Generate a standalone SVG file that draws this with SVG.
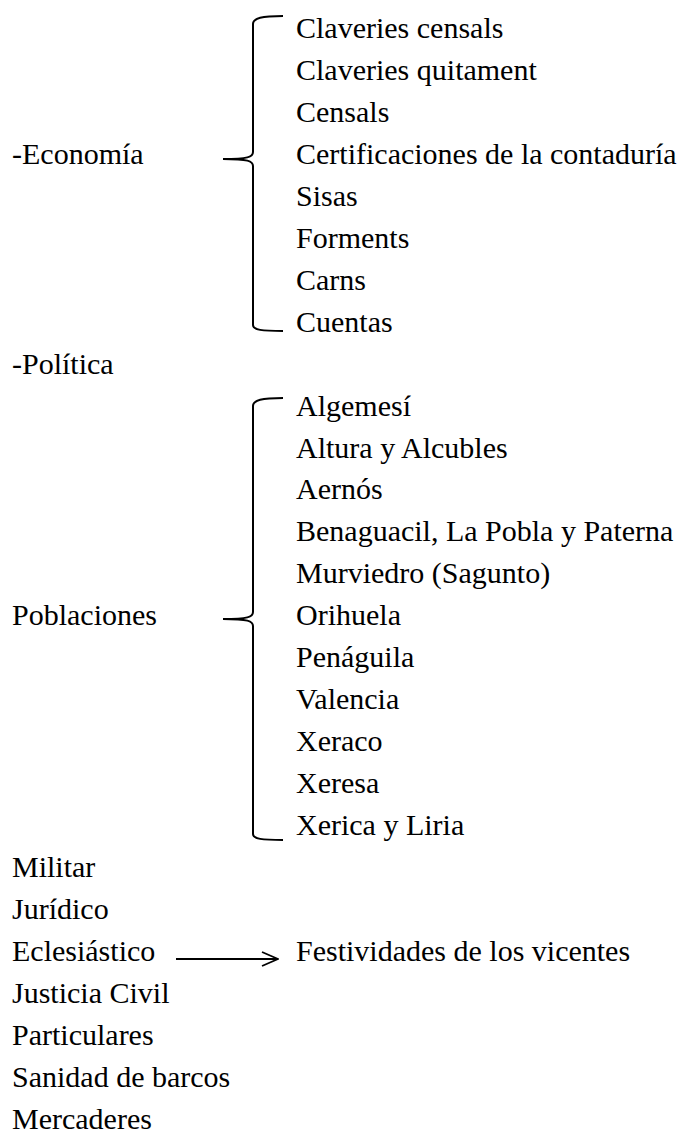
<svg xmlns="http://www.w3.org/2000/svg" width="697" height="1133" viewBox="0 0 697 1133">
<defs>
<marker id="open" viewBox="0 0 18 16" refX="17" refY="8" markerWidth="18" markerHeight="16" markerUnits="userSpaceOnUse" orient="auto">
<polyline points="1,1 17,8 1,15" fill="none" stroke="#000" stroke-width="1.8"/>
</marker>
</defs>
<rect width="697" height="1133" fill="#fff"/>
<g id="economia">
<text x="12" y="164" font-family="Liberation Serif" font-size="30">-Econom&#237;a</text>
<text x="296" y="38" font-family="Liberation Serif" font-size="30">Claveries censals</text>
<text x="296" y="80" font-family="Liberation Serif" font-size="30">Claveries quitament</text>
<text x="296" y="122" font-family="Liberation Serif" font-size="30">Censals</text>
<text x="296" y="164" font-family="Liberation Serif" font-size="30">Certificaciones de la contadur&#237;a</text>
<text x="296" y="206" font-family="Liberation Serif" font-size="30">Sisas</text>
<text x="296" y="248" font-family="Liberation Serif" font-size="30">Forments</text>
<text x="296" y="290" font-family="Liberation Serif" font-size="30">Carns</text>
<text x="296" y="332" font-family="Liberation Serif" font-size="30">Cuentas</text>
</g>
<g id="politica">
<text x="12" y="374" font-family="Liberation Serif" font-size="30">-Pol&#237;tica</text>
</g>
<g id="poblaciones">
<text x="12" y="625" font-family="Liberation Serif" font-size="30">Poblaciones</text>
<text x="296" y="416" font-family="Liberation Serif" font-size="30">Algemes&#237;</text>
<text x="296" y="458" font-family="Liberation Serif" font-size="30">Altura y Alcubles</text>
<text x="296" y="499" font-family="Liberation Serif" font-size="30">Aern&#243;s</text>
<text x="296" y="541" font-family="Liberation Serif" font-size="30">Benaguacil, La Pobla y Paterna</text>
<text x="296" y="583" font-family="Liberation Serif" font-size="30">Murviedro (Sagunto)</text>
<text x="296" y="625" font-family="Liberation Serif" font-size="30">Orihuela</text>
<text x="296" y="667" font-family="Liberation Serif" font-size="30">Pen&#225;guila</text>
<text x="296" y="709" font-family="Liberation Serif" font-size="30">Valencia</text>
<text x="296" y="751" font-family="Liberation Serif" font-size="30">Xeraco</text>
<text x="296" y="793" font-family="Liberation Serif" font-size="30">Xeresa</text>
<text x="296" y="835" font-family="Liberation Serif" font-size="30">Xerica y Liria</text>
</g>
<g id="militar"><text x="12" y="877" font-family="Liberation Serif" font-size="30">Militar</text></g>
<g id="juridico"><text x="12" y="919" font-family="Liberation Serif" font-size="30">Jur&#237;dico</text></g>
<g id="eclesiastico"><text x="12" y="961" font-family="Liberation Serif" font-size="30">Eclesi&#225;stico</text></g>
<g id="festividades"><text x="296" y="961" font-family="Liberation Serif" font-size="30">Festividades de los vicentes</text></g>
<g id="justicia"><text x="12" y="1003" font-family="Liberation Serif" font-size="30">Justicia Civil</text></g>
<g id="particulares"><text x="12" y="1045" font-family="Liberation Serif" font-size="30">Particulares</text></g>
<g id="sanidad"><text x="12" y="1087" font-family="Liberation Serif" font-size="30">Sanidad de barcos</text></g>
<g id="mercaderes"><text x="12" y="1129" font-family="Liberation Serif" font-size="30">Mercaderes</text></g>
<g id="connectors" fill="none" stroke="#000" stroke-width="2">
<path d="M283,16 C262,16 253,18 253,24 L253,152 C253,157 248,159 223,159 C248,159 253,161 253,166 L253,325 C253,330 262,331 283,331"/>
<path d="M283,398 C262,398 253,400 253,406 L253,612 C253,617 248,619 223,619 C248,619 253,621 253,626 L253,834 C253,839 262,840 283,840"/>
<line x1="176" y1="959" x2="278" y2="959" marker-end="url(#open)"/>
</g>
</svg>
